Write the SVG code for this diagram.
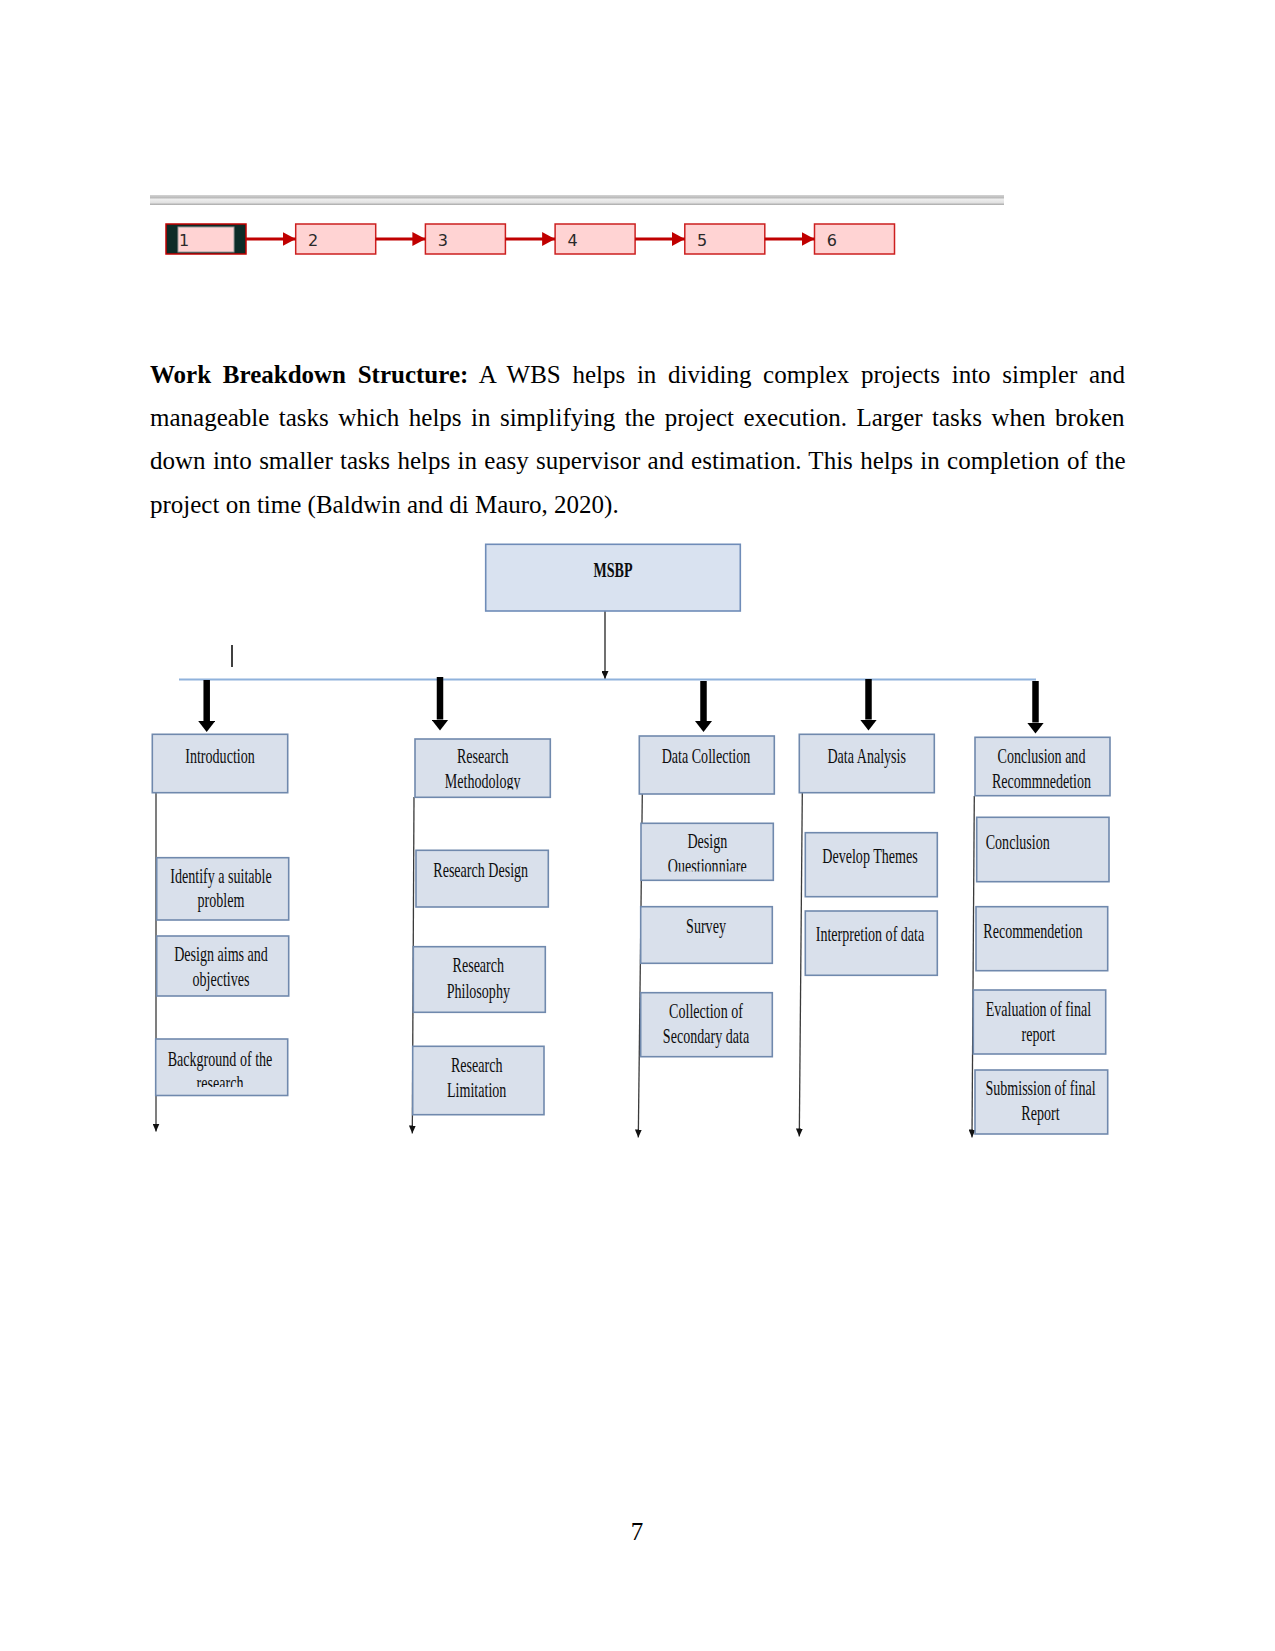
<svg xmlns="http://www.w3.org/2000/svg" width="1275" height="1651" viewBox="0 0 1275 1651">
<style>
.p{font-family:"Liberation Serif","Times New Roman",serif;font-size:25px;fill:#000}
.fb{fill:#ffd3d3;stroke:#cc1f1f;stroke-width:1.5}
.fl{font-family:"DejaVu Sans",Verdana,sans-serif;font-size:16px;fill:#2a2a2a}
.ra{stroke:#c00000;stroke-width:3;fill:none}
.box{fill:#d9e0eb;stroke:#7089ad;stroke-width:1.6}
.root{fill:#d9e2f0;stroke:#6f8cb8;stroke-width:1.6}
.t{font-family:"Liberation Serif","Times New Roman",serif;font-size:21px;fill:#0d0d0d;text-anchor:middle}
.tl{text-anchor:start}
.bar{stroke:#8fb2dc;stroke-width:2.2;fill:none}
.thick{stroke:#000;stroke-width:6.5;fill:none}
.col{stroke:#3a3a3a;stroke-width:1.3;fill:none}
.thin{stroke:#111;stroke-width:1.2;fill:none}
</style>
<defs>
<linearGradient id="band" x1="0" y1="0" x2="0" y2="1">
<stop offset="0" stop-color="#d4d4d4"/>
<stop offset="0.25" stop-color="#bcbcbc"/>
<stop offset="0.45" stop-color="#ededed"/>
<stop offset="0.75" stop-color="#e2e2e2"/>
<stop offset="1" stop-color="#a8a8a8"/>
</linearGradient>
<marker id="redh" markerUnits="userSpaceOnUse" viewBox="0 0 13 14" refX="13" refY="7" markerWidth="13" markerHeight="14" orient="auto">
<path d="M0,0 L13,7 L0,14 z" fill="#c00000"/>
</marker>
<marker id="bigh" markerUnits="userSpaceOnUse" viewBox="0 0 11 17" refX="0" refY="8.5" markerWidth="11" markerHeight="17" orient="auto">
<path d="M0,0 L11,8.5 L0,17 z" fill="#000"/>
</marker>
<marker id="smh" markerUnits="userSpaceOnUse" viewBox="0 0 8 7" refX="8" refY="3.5" markerWidth="8" markerHeight="7" orient="auto">
<path d="M0,0 L8,3.5 L0,7 z" fill="#111"/>
</marker>
<clipPath id="clipBg"><rect x="150" y="1040" width="140" height="47"/></clipPath>
<clipPath id="clipRm"><rect x="410" y="740" width="145" height="49.5"/></clipPath>
<clipPath id="clipDq"><rect x="636" y="824" width="145" height="47.5"/></clipPath>
</defs>

<!-- top band -->
<rect x="150" y="195" width="854" height="10" fill="url(#band)"/>

<!-- flow row -->
<g id="flow">
<g id="f1"><rect x="166" y="224" width="80" height="30" fill="#0d2b27" stroke="#c00000" stroke-width="1.5"/><rect x="178" y="227" width="56" height="25" fill="#ffd3d3" stroke="#9a9a9a" stroke-width="1"/><text class="fl" x="179" y="246">1</text></g>
<g id="f2"><rect class="fb" x="295.7" y="224" width="80" height="30"/><text class="fl" x="308" y="246">2</text></g>
<g id="f3"><rect class="fb" x="425.4" y="224" width="80" height="30"/><text class="fl" x="437.7" y="246">3</text></g>
<g id="f4"><rect class="fb" x="555.1" y="224" width="80" height="30"/><text class="fl" x="567.4" y="246">4</text></g>
<g id="f5"><rect class="fb" x="684.8" y="224" width="80" height="30"/><text class="fl" x="697.1" y="246">5</text></g>
<g id="f6"><rect class="fb" x="814.5" y="224" width="80" height="30"/><text class="fl" x="826.8" y="246">6</text></g>
<g id="flow-connectors">
<line class="ra" x1="246" y1="239" x2="295.7" y2="239" marker-end="url(#redh)"/>
<line class="ra" x1="375.7" y1="239" x2="425.4" y2="239" marker-end="url(#redh)"/>
<line class="ra" x1="505.4" y1="239" x2="555.1" y2="239" marker-end="url(#redh)"/>
<line class="ra" x1="635.1" y1="239" x2="684.8" y2="239" marker-end="url(#redh)"/>
<line class="ra" x1="764.8" y1="239" x2="814.5" y2="239" marker-end="url(#redh)"/>
</g>
</g>

<!-- paragraph -->
<text class="p" x="150" y="383" word-spacing="5.45"><tspan font-weight="bold">Work Breakdown Structure:</tspan> A WBS helps in dividing complex projects into simpler and</text>
<text class="p" x="150" y="426.2" word-spacing="3.2">manageable tasks which helps in simplifying the project execution. Larger tasks when broken</text>
<text class="p" x="150" y="469.3" word-spacing="1.1">down into smaller tasks helps in easy supervisor and estimation. This helps in completion of the</text>
<text class="p" x="150" y="512.5">project on time (Baldwin and di Mauro, 2020).</text>

<!-- connectors -->
<g id="connectors">
<line class="thin" x1="605" y1="611" x2="605" y2="679" marker-end="url(#smh)"/>
<line class="bar" x1="179" y1="679.5" x2="1036" y2="679.5"/>
<line x1="232" y1="645" x2="232" y2="667" stroke="#000" stroke-width="1.5"/>
<line class="thick" x1="206.7" y1="680" x2="206.7" y2="721" marker-end="url(#bigh)"/>
<line class="thick" x1="440" y1="677" x2="440" y2="719.5" marker-end="url(#bigh)"/>
<line class="thick" x1="703.5" y1="681" x2="703.5" y2="721" marker-end="url(#bigh)"/>
<line class="thick" x1="868.5" y1="679" x2="868.5" y2="719.5" marker-end="url(#bigh)"/>
<line class="thick" x1="1035.5" y1="681" x2="1035.5" y2="722.5" marker-end="url(#bigh)"/>
<line class="col" x1="156" y1="793" x2="156" y2="1131.5" marker-end="url(#smh)"/>
<line class="col" x1="414" y1="797" x2="412.3" y2="1133.5" marker-end="url(#smh)"/>
<line class="col" x1="642.3" y1="794" x2="638.3" y2="1137.5" marker-end="url(#smh)"/>
<line class="col" x1="802.3" y1="793" x2="799.3" y2="1136.5" marker-end="url(#smh)"/>
<line class="col" x1="974.3" y1="796" x2="972" y2="1137.5" marker-end="url(#smh)"/>
</g>

<!-- nodes -->
<g id="msbp"><rect class="root" x="485.7" y="544.3" width="254.6" height="66.7"/><text class="t" font-weight="bold" transform="translate(613,576.5) scale(0.67,1)">MSBP</text></g>

<g id="introduction"><rect class="box" x="152.3" y="734.3" width="135.4" height="58.4"/><text class="t" transform="translate(220,763) scale(0.67,1)">Introduction</text></g>
<g id="identify"><rect class="box" x="156.7" y="857.7" width="132" height="62.3"/><text class="t" transform="translate(221,882.5) scale(0.67,1)">Identify a suitable<tspan x="0" dy="24.5">problem</tspan></text></g>
<g id="aims"><rect class="box" x="156.7" y="936" width="132" height="60"/><text class="t" transform="translate(221,960.7) scale(0.67,1)">Design aims and<tspan x="0" dy="25">objectives</tspan></text></g>
<g id="background"><rect class="box" x="155.7" y="1039" width="132" height="56.5"/><g clip-path="url(#clipBg)"><text class="t" transform="translate(220,1065.5) scale(0.67,1)">Background of the<tspan x="0" dy="25">research</tspan></text></g></g>

<g id="methodology"><rect class="box" x="415" y="739" width="135.3" height="58.3"/><g clip-path="url(#clipRm)"><text class="t" transform="translate(482.7,763.3) scale(0.67,1)">Research<tspan x="0" dy="25">Methodology</tspan></text></g></g>
<g id="design"><rect class="box" x="416" y="850.3" width="132.3" height="56.7"/><text class="t" transform="translate(480.7,877) scale(0.67,1)">Research Design</text></g>
<g id="philosophy"><rect class="box" x="413.3" y="946.7" width="132" height="65.6"/><text class="t" transform="translate(478.3,972.3) scale(0.67,1)">Research<tspan x="0" dy="25.4">Philosophy</tspan></text></g>
<g id="limitation"><rect class="box" x="412.7" y="1046.3" width="131.3" height="68.4"/><text class="t" transform="translate(476.7,1071.7) scale(0.67,1)">Research<tspan x="0" dy="25">Limitation</tspan></text></g>

<g id="datacollection"><rect class="box" x="639.3" y="736" width="135" height="58"/><text class="t" transform="translate(706,762.7) scale(0.67,1)">Data Collection</text></g>
<g id="questionnaire"><rect class="box" x="641" y="823.3" width="132.3" height="57"/><g clip-path="url(#clipDq)"><text class="t" transform="translate(707.3,848.3) scale(0.67,1)">Design<tspan x="0" dy="25">Questionniare</tspan></text></g></g>
<g id="survey"><rect class="box" x="640.7" y="906.7" width="131.6" height="56.6"/><text class="t" transform="translate(706,933.3) scale(0.67,1)">Survey</text></g>
<g id="secondary"><rect class="box" x="640.7" y="992.7" width="131.6" height="64"/><text class="t" transform="translate(706,1017.7) scale(0.67,1)">Collection of<tspan x="0" dy="25">Secondary data</tspan></text></g>

<g id="dataanalysis"><rect class="box" x="799.3" y="734.3" width="135" height="58.4"/><text class="t" transform="translate(866.7,763.3) scale(0.67,1)">Data Analysis</text></g>
<g id="themes"><rect class="box" x="805.3" y="832.7" width="132" height="64"/><text class="t" transform="translate(870,862.7) scale(0.67,1)">Develop Themes</text></g>
<g id="interpretion"><rect class="box" x="805.3" y="911" width="132" height="64.3"/><text class="t" transform="translate(870,941) scale(0.67,1)">Interpretion of data</text></g>

<g id="conclrec"><rect class="box" x="975" y="737.3" width="135" height="58.4"/><text class="t" transform="translate(1041.5,763.3) scale(0.67,1)">Conclusion and<tspan x="0" dy="25">Recommnedetion</tspan></text></g>
<g id="conclusion"><rect class="box" x="976.7" y="817.3" width="132.3" height="64.4"/><text class="t tl" transform="translate(985.7,849) scale(0.67,1)">Conclusion</text></g>
<g id="recommendetion"><rect class="box" x="976" y="906.7" width="131.7" height="64"/><text class="t tl" transform="translate(983.3,938.3) scale(0.67,1)">Recommendetion</text></g>
<g id="evaluation"><rect class="box" x="973.3" y="990" width="132.4" height="64"/><text class="t" transform="translate(1038.4,1016) scale(0.67,1)">Evaluation of final<tspan x="0" dy="25">report</tspan></text></g>
<g id="submission"><rect class="box" x="975" y="1070" width="132.7" height="64"/><text class="t" transform="translate(1040.5,1095) scale(0.67,1)">Submission of final<tspan x="0" dy="25">Report</tspan></text></g>

<text class="p" x="637" y="1540" text-anchor="middle">7</text>
</svg>
